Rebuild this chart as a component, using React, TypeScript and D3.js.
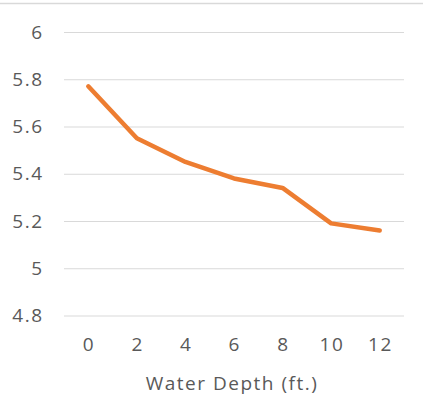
import React, { useEffect, useRef } from 'react';
import * as d3 from 'd3';

const depths = ['0', '2', '4', '6', '8', '10', '12'];
const values = [5.77, 5.55, 5.45, 5.38, 5.34, 5.19, 5.16];
const yTicks = [4.8, 5, 5.2, 5.4, 5.6, 5.8, 6];
const xTitle = 'Water Depth (ft.)';

const App = () => {
    const svgRef = useRef<SVGSVGElement>(null);

    useEffect(() => {
        const svg = d3.select(svgRef.current);
        svg.selectAll('*').remove();

        const width = 423;
        const height = 409;
        const margin = { top: 32, right: 19, bottom: 93.5, left: 64 };
        const font = '"Open Sans", sans-serif';
        const textColor = '#595959';
        const fontSize = '19px';
        const spacing = '1.5px';

        const x = d3.scaleBand<string>()
            .domain(depths)
            .range([margin.left, width - margin.right]);
        const y = d3.scaleLinear()
            .domain([4.8, 6])
            .range([height - margin.bottom, margin.top]);

        // top border of chart frame
        svg.append('line')
            .attr('x1', 0).attr('x2', width)
            .attr('y1', 3.5).attr('y2', 3.5)
            .attr('stroke', '#d9d9d9')
            .attr('stroke-width', 1.5);

        const yAxis = svg.append('g')
            .attr('transform', `translate(${margin.left},0)`)
            .call(d3.axisLeft(y)
                .tickValues(yTicks)
                .tickSize(-(width - margin.left - margin.right))
                .tickPadding(20.5)
                .tickFormat(d => d3.format('')(+d)));
        yAxis.select('.domain').remove();
        yAxis.selectAll('.tick line')
            .attr('stroke', '#d9d9d9')
            .attr('stroke-width', 1.2);
        yAxis.selectAll('.tick text')
            .attr('fill', textColor)
            .style('font-family', font)
            .style('font-size', fontSize)
            .style('letter-spacing', spacing);

        const xAxis = svg.append('g')
            .attr('transform', `translate(0,${height - margin.bottom})`)
            .call(d3.axisBottom(x).tickSize(0).tickPadding(22));
        xAxis.select('.domain').remove();
        xAxis.selectAll('.tick text')
            .attr('fill', textColor)
            .attr('dx', 0.75)
            .style('font-family', font)
            .style('font-size', fontSize)
            .style('letter-spacing', spacing);

        svg.append('text')
            .attr('x', 232)
            .attr('y', 390)
            .attr('text-anchor', 'middle')
            .attr('fill', textColor)
            .style('font-family', font)
            .style('font-size', fontSize)
            .style('letter-spacing', spacing)
            .text(xTitle);

        const line = d3.line<number>()
            .x((_, i) => (x(depths[i]) ?? 0) + x.bandwidth() / 2)
            .y(d => y(d));

        svg.append('path')
            .datum(values)
            .attr('fill', 'none')
            .attr('stroke', '#ED7D31')
            .attr('stroke-width', 4.5)
            .attr('stroke-linecap', 'round')
            .attr('stroke-linejoin', 'round')
            .attr('d', line);
    }, []);

    return (
        <svg ref={svgRef} width={423} height={409}
            style={{ position: 'absolute', left: 0, top: 0, background: '#fff' }}></svg>
    );
};

export default App;
